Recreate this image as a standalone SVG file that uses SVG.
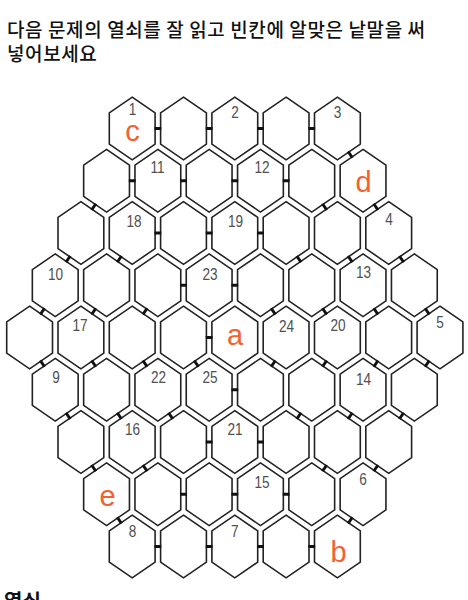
<svg xmlns="http://www.w3.org/2000/svg" xmlns:xlink="http://www.w3.org/1999/xlink" width="468" height="600" viewBox="0 0 468 600">
<style>
.hex{fill:#fff;stroke:#222;stroke-width:1.6;stroke-linejoin:miter}
.num{font-family:"Liberation Sans",Arial,sans-serif;font-size:16px;fill:#505050;text-anchor:middle}
.let{font-family:"Liberation Sans",Arial,sans-serif;font-size:29px;fill:#f26132;text-anchor:middle}
.title{font-family:"Noto Sans CJK KR","Noto Sans",sans-serif;font-size:19px;font-weight:500;letter-spacing:0.6px;fill:#111}
.key{font-family:"Noto Sans CJK KR","Noto Sans",sans-serif;font-size:20px;font-weight:bold;fill:#111}
#links line{stroke:#111;stroke-width:3;stroke-linecap:butt}
</style>
<defs>
<polygon id="hx" class="hex" points="0,-31.3 22.9,-15.65 22.9,15.65 0,31.3 -22.9,15.65 -22.9,-15.65"/>
</defs>
<rect width="468" height="600" fill="#fff"/>
<text class="title" x="7" y="37">다음 문제의 열쇠를 잘 읽고 빈칸에 알맞은 낱말을 써</text>
<text class="title" x="7" y="61">넣어보세요</text>

<g id="cells">
<!-- row 1 -->
<g id="c1"><use href="#hx" x="132.2" y="128.5"/><text class="num" transform="translate(132.5,114.5) scale(0.85,1)">1</text><text class="let" x="132.5" y="140.5">c</text></g>
<g id="r1-2"><use href="#hx" x="183.5" y="128.5"/></g>
<g id="c2"><use href="#hx" x="234.8" y="128.5"/><text class="num" transform="translate(235,118) scale(0.85,1)">2</text></g>
<g id="r1-4"><use href="#hx" x="286.1" y="128.5"/></g>
<g id="c3"><use href="#hx" x="337.4" y="128.5"/><text class="num" transform="translate(337.5,118) scale(0.85,1)">3</text></g>
<!-- row 2 -->
<g id="r2-1"><use href="#hx" x="106.55" y="180.75"/></g>
<g id="c11"><use href="#hx" x="157.85" y="180.75"/><text class="num" transform="translate(157.5,173) scale(0.85,1)">11</text></g>
<g id="r2-3"><use href="#hx" x="209.15" y="180.75"/></g>
<g id="c12"><use href="#hx" x="260.45" y="180.75"/><text class="num" transform="translate(262,173) scale(0.85,1)">12</text></g>
<g id="r2-5"><use href="#hx" x="311.75" y="180.75"/></g>
<g id="cd"><use href="#hx" x="363.05" y="180.75"/><text class="let" x="363.5" y="192">d</text></g>
<!-- row 3 -->
<g id="r3-1"><use href="#hx" x="80.9" y="233"/></g>
<g id="c18"><use href="#hx" x="132.2" y="233"/><text class="num" transform="translate(134,227) scale(0.85,1)">18</text></g>
<g id="r3-3"><use href="#hx" x="183.5" y="233"/></g>
<g id="c19"><use href="#hx" x="234.8" y="233"/><text class="num" transform="translate(235.5,227) scale(0.85,1)">19</text></g>
<g id="r3-5"><use href="#hx" x="286.1" y="233"/></g>
<g id="r3-6"><use href="#hx" x="337.4" y="233"/></g>
<g id="c4"><use href="#hx" x="388.7" y="233"/><text class="num" transform="translate(389,225) scale(0.85,1)">4</text></g>
<!-- row 4 -->
<g id="c10"><use href="#hx" x="55.25" y="285.25"/><text class="num" transform="translate(55.5,280) scale(0.85,1)">10</text></g>
<g id="r4-2"><use href="#hx" x="106.55" y="285.25"/></g>
<g id="r4-3"><use href="#hx" x="157.85" y="285.25"/></g>
<g id="c23"><use href="#hx" x="209.15" y="285.25"/><text class="num" transform="translate(210,280) scale(0.85,1)">23</text></g>
<g id="r4-5"><use href="#hx" x="260.45" y="285.25"/></g>
<g id="r4-6"><use href="#hx" x="311.75" y="285.25"/></g>
<g id="c13"><use href="#hx" x="363.05" y="285.25"/><text class="num" transform="translate(363.5,278) scale(0.85,1)">13</text></g>
<g id="r4-8"><use href="#hx" x="414.35" y="285.25"/></g>
<!-- row 5 -->
<g id="r5-1"><use href="#hx" x="29.6" y="337.5"/></g>
<g id="c17"><use href="#hx" x="80.9" y="337.5"/><text class="num" transform="translate(80,331) scale(0.85,1)">17</text></g>
<g id="r5-3"><use href="#hx" x="132.2" y="337.5"/></g>
<g id="r5-4"><use href="#hx" x="183.5" y="337.5"/></g>
<g id="ca"><use href="#hx" x="234.8" y="337.5"/><text class="let" x="235" y="345">a</text></g>
<g id="c24"><use href="#hx" x="286.1" y="337.5"/><text class="num" transform="translate(286.5,332) scale(0.85,1)">24</text></g>
<g id="c20"><use href="#hx" x="337.4" y="337.5"/><text class="num" transform="translate(338,331) scale(0.85,1)">20</text></g>
<g id="r5-8"><use href="#hx" x="388.7" y="337.5"/></g>
<g id="c5"><use href="#hx" x="440" y="337.5"/><text class="num" transform="translate(440,328) scale(0.85,1)">5</text></g>
<!-- row 6 -->
<g id="c9"><use href="#hx" x="55.25" y="389.75"/><text class="num" transform="translate(56,383) scale(0.85,1)">9</text></g>
<g id="r6-2"><use href="#hx" x="106.55" y="389.75"/></g>
<g id="c22"><use href="#hx" x="157.85" y="389.75"/><text class="num" transform="translate(158.5,383) scale(0.85,1)">22</text></g>
<g id="c25"><use href="#hx" x="209.15" y="389.75"/><text class="num" transform="translate(210,383) scale(0.85,1)">25</text></g>
<g id="r6-5"><use href="#hx" x="260.45" y="389.75"/></g>
<g id="r6-6"><use href="#hx" x="311.75" y="389.75"/></g>
<g id="c14"><use href="#hx" x="363.05" y="389.75"/><text class="num" transform="translate(363.5,385) scale(0.85,1)">14</text></g>
<g id="r6-8"><use href="#hx" x="414.35" y="389.75"/></g>
<!-- row 7 -->
<g id="r7-1"><use href="#hx" x="80.9" y="442"/></g>
<g id="c16"><use href="#hx" x="132.2" y="442"/><text class="num" transform="translate(132.5,435) scale(0.85,1)">16</text></g>
<g id="r7-3"><use href="#hx" x="183.5" y="442"/></g>
<g id="c21"><use href="#hx" x="234.8" y="442"/><text class="num" transform="translate(235,435) scale(0.85,1)">21</text></g>
<g id="r7-5"><use href="#hx" x="286.1" y="442"/></g>
<g id="r7-6"><use href="#hx" x="337.4" y="442"/></g>
<g id="r7-7"><use href="#hx" x="388.7" y="442"/></g>
<!-- row 8 -->
<g id="ce"><use href="#hx" x="106.55" y="494.25"/><text class="let" x="107.5" y="506">e</text></g>
<g id="r8-2"><use href="#hx" x="157.85" y="494.25"/></g>
<g id="r8-3"><use href="#hx" x="209.15" y="494.25"/></g>
<g id="c15"><use href="#hx" x="260.45" y="494.25"/><text class="num" transform="translate(262,488) scale(0.85,1)">15</text></g>
<g id="r8-5"><use href="#hx" x="311.75" y="494.25"/></g>
<g id="c6"><use href="#hx" x="363.05" y="494.25"/><text class="num" transform="translate(363,485) scale(0.85,1)">6</text></g>
<!-- row 9 -->
<g id="c8"><use href="#hx" x="132.2" y="546.5"/><text class="num" transform="translate(132.5,537) scale(0.85,1)">8</text></g>
<g id="r9-2"><use href="#hx" x="183.5" y="546.5"/></g>
<g id="c7"><use href="#hx" x="234.8" y="546.5"/><text class="num" transform="translate(234.8,537) scale(0.85,1)">7</text></g>
<g id="r9-4"><use href="#hx" x="286.1" y="546.5"/></g>
<g id="cb"><use href="#hx" x="337.4" y="546.5"/><text class="let" x="338.5" y="562">b</text></g>
</g>

<g id="links">
<line x1="154.45" y1="128.5" x2="161.25" y2="128.5"/>
<line x1="205.75" y1="128.5" x2="212.55" y2="128.5"/>
<line x1="257.05" y1="128.5" x2="263.85" y2="128.5"/>
<line x1="308.35" y1="128.5" x2="315.15" y2="128.5"/>
<line x1="128.8" y1="180.75" x2="135.6" y2="180.75"/>
<line x1="180.1" y1="180.75" x2="186.9" y2="180.75"/>
<line x1="231.4" y1="180.75" x2="238.2" y2="180.75"/>
<line x1="282.7" y1="180.75" x2="289.5" y2="180.75"/>
<line x1="154.45" y1="233" x2="161.25" y2="233"/>
<line x1="205.75" y1="233" x2="212.55" y2="233"/>
<line x1="257.05" y1="233" x2="263.85" y2="233"/>
<line x1="180.1" y1="285.25" x2="186.9" y2="285.25"/>
<line x1="231.4" y1="285.25" x2="238.2" y2="285.25"/>
<line x1="205.75" y1="337.5" x2="212.55" y2="337.5"/>
<line x1="231.4" y1="389.75" x2="238.2" y2="389.75"/>
<line x1="205.75" y1="442" x2="212.55" y2="442"/>
<line x1="257.05" y1="442" x2="263.85" y2="442"/>
<line x1="180.1" y1="494.25" x2="186.9" y2="494.25"/>
<line x1="231.4" y1="494.25" x2="238.2" y2="494.25"/>
<line x1="282.7" y1="494.25" x2="289.5" y2="494.25"/>
<line x1="154.45" y1="546.5" x2="161.25" y2="546.5"/>
<line x1="205.75" y1="546.5" x2="212.55" y2="546.5"/>
<line x1="257.05" y1="546.5" x2="263.85" y2="546.5"/>
<line x1="308.35" y1="546.5" x2="315.15" y2="546.5"/>

<line x1="348.08" y1="151.5" x2="352.38" y2="157.76"/>

<line x1="373.73" y1="203.75" x2="378.03" y2="210"/>
<line x1="95.88" y1="203.75" x2="91.58" y2="210"/>
<line x1="322.43" y1="203.75" x2="326.73" y2="210"/>

<line x1="70.23" y1="256" x2="65.93" y2="262.26"/>
<line x1="121.53" y1="256" x2="117.23" y2="262.26"/>
<line x1="296.78" y1="256" x2="301.08" y2="262.26"/>
<line x1="348.08" y1="256" x2="352.38" y2="262.26"/>
<line x1="399.38" y1="256" x2="403.68" y2="262.26"/>

<line x1="44.58" y1="308.25" x2="40.28" y2="314.5"/>
<line x1="95.88" y1="308.25" x2="91.58" y2="314.5"/>
<line x1="147.18" y1="308.25" x2="142.88" y2="314.5"/>
<line x1="271.13" y1="308.25" x2="275.43" y2="314.5"/>
<line x1="322.43" y1="308.25" x2="326.73" y2="314.5"/>
<line x1="373.73" y1="308.25" x2="378.03" y2="314.5"/>
<line x1="425.03" y1="308.25" x2="429.33" y2="314.5"/>

<line x1="40.28" y1="360.5" x2="44.58" y2="366.76"/>
<line x1="91.58" y1="360.5" x2="95.88" y2="366.76"/>
<line x1="142.88" y1="360.5" x2="147.18" y2="366.76"/>
<line x1="194.18" y1="360.5" x2="198.48" y2="366.76"/>
<line x1="275.43" y1="360.5" x2="271.13" y2="366.76"/>
<line x1="326.73" y1="360.5" x2="322.43" y2="366.76"/>
<line x1="378.03" y1="360.5" x2="373.73" y2="366.76"/>
<line x1="429.33" y1="360.5" x2="425.03" y2="366.76"/>

<line x1="65.93" y1="412.75" x2="70.23" y2="419"/>
<line x1="117.23" y1="412.75" x2="121.53" y2="419"/>
<line x1="168.53" y1="412.75" x2="172.83" y2="419"/>
<line x1="301.08" y1="412.75" x2="296.78" y2="419"/>
<line x1="352.38" y1="412.75" x2="348.08" y2="419"/>
<line x1="403.68" y1="412.75" x2="399.38" y2="419"/>

<line x1="91.58" y1="465" x2="95.88" y2="471.26"/>
<line x1="142.88" y1="465" x2="147.18" y2="471.26"/>
<line x1="326.73" y1="465" x2="322.43" y2="471.26"/>
<line x1="378.03" y1="465" x2="373.73" y2="471.26"/>

<line x1="117.23" y1="517.25" x2="121.53" y2="523.5"/>
<line x1="352.38" y1="517.25" x2="348.08" y2="523.5"/>
</g>

<text class="key" x="4" y="609">열쇠</text>
</svg>
